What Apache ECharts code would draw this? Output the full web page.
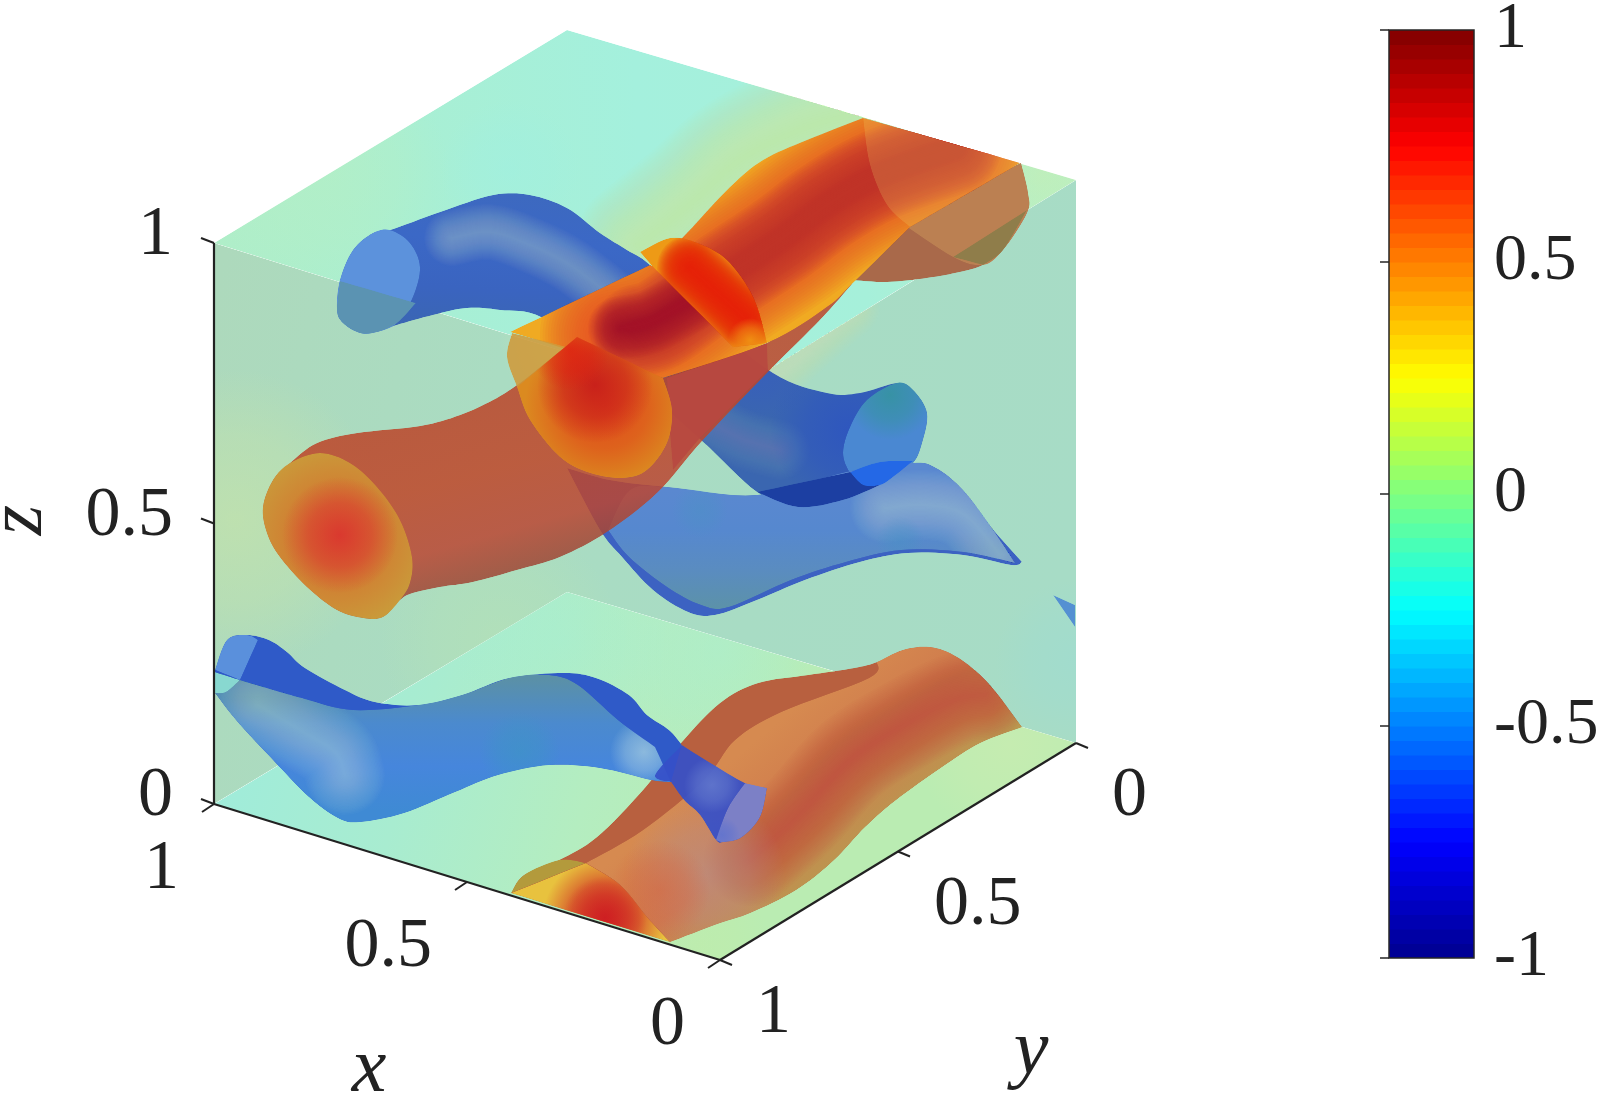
<!DOCTYPE html>
<html><head><meta charset="utf-8">
<style>html,body{margin:0;padding:0;background:#fff}#c{width:1600px;height:1095px}</style>
<script src="https://cdn.jsdelivr.net/npm/echarts@6/dist/echarts.min.js"></script>
</head><body><div id="c"></div>
<script>
// ---- axis values ----
const tickValues3d = [0, 0.5, 1];
const colorbarTicks = [-1, -0.5, 0, 0.5, 1];
const jetAnchors = [[-1,'#00008f'],[-0.75,'#0000ff'],[-0.25,'#00ffff'],[0.25,'#ffff00'],[0.75,'#ff0000'],[1,'#800000']];
const colorLevels = 64;
// ---- projected box corners, keyed x,y,z ----
const boxCorners = {'000':[1076,743],'100':[567,592],'010':[720,960],'110':[214,804],'001':[1076,180],'101':[567,30],'011':[720,400],'111':[214,243]};
// ---- traced surface outlines, in picture units; a third entry marks a sharp corner ----
const blueTopTube = [[390,230],[440,212],[493,195],[530,195],[567,208],[600,233],[627,250],[650,265],[700,315],[773,373],[827,393],[860,393],[897,383],[913,390],[927,413],[922,443],[913,463],[893,477],[880,485],[843,500],[798,507],[757,492],[701,440],[620,370],[543,318],[500,310],[467,308],[433,315],[397,325],[377,332],[360,333],[343,323],[337,310],[340,280],[353,250],[373,233]];
const blueTopRidgeA = [[452,238],[490,232],[530,245],[570,265],[610,295]];
const blueTopRidgeB = [[715,425],[745,440],[780,450]];
const blueCapLeft = [[390,230],[410,243],[420,267],[413,297],[397,323],[377,332],[360,333],[343,323],[337,310],[340,280],[353,250],[373,233]];
const blueCapLeftLow = [[340,281,1],[416,303,1],[397,323],[377,332],[360,333],[343,323],[337,310]];
const blueCapRight = [[897,383],[913,390],[927,413],[922,443],[913,463],[893,477],[880,485],[863,485],[850,473],[843,453],[850,427],[867,400]];
const blueCapOverlap = [[850,472,1],[880,462],[913,461,1],[893,477],[880,485],[863,485]];
const blueWave = [[567,468,1],[610,480],[667,487],[757,495],[846,472],[912,463],[936,468],[963,490],[991,527],[1022,562,1],[1011,565],[963,555],[908,553],[860,562],[805,580],[757,600],[715,615],[688,612],[653,590],[622,557],[600,530]];
const blueWaveInner = [[608,530,1],[629,557],[667,587],[701,605],[729,607],[791,580],[846,562],[901,550],[963,552],[1015,563,1],[991,527],[963,490],[936,468],[912,463],[846,472],[757,495],[667,487],[630,490]];
const blueWaveRidge = [[885,508],[925,505],[965,515],[1000,555]];
const blueOverlap = [[757,492,1],[850,472,1],[880,485,1],[843,500],[798,507]];
const blueSliver = [[1053,595,1],[1075,605,1],[1075,627,1]];
const blueLow = [[215,670,1],[227,640],[247,635],[269,640],[287,652],[305,668],[345,690],[375,702],[418,705],[462,695],[509,678],[564,673],[596,678],[629,695],[647,715],[669,730],[682,745,1],[671,782,1],[651,780],[600,768],[549,765],[498,775],[455,792],[404,813],[360,822],[338,818],[309,797],[273,760],[236,720],[215,693,1]];
const blueLowInner = [[240,680,1],[302,698],[353,710],[418,705],[462,695],[509,678],[549,675],[578,685],[618,720],[655,747,1],[671,782,1],[651,780],[600,768],[549,765],[498,775],[455,792],[404,813],[360,822],[338,818],[309,797],[273,760],[236,720],[215,693,1]];
const blueLowRidge = [[258,705],[300,730],[335,752],[345,775]];
const blueLowCap = [[215,670,1],[227,640],[247,635],[258,640,1],[240,680,1]];
const blueLowCapTeal = [[215,672,1],[240,680,1],[226,692],[215,693,1]];
const blueNeck = [[682,745,1],[709,762],[745,783],[767,788,1],[760,817],[742,837],[724,842],[716,840],[700,815],[684,800],[671,782,1],[655,775]];
const blueNeckCap = [[745,783,1],[767,788,1],[760,817],[742,837],[724,842],[716,840,1],[728,808]];
const redSheet = [[511,893,1],[524,875],[559,860],[597,837],[643,790],[681,743],[720,703],[758,683],[808,675],[854,668],[877,662],[903,650],[930,647],[957,657],[988,683],[1022,727,1],[980,743],[942,767],[896,800],[865,827],[834,860],[796,890],[750,913],[720,923],[670,942,1]];
const redSheetInner = [[586,863,1],[643,830],[704,780],[735,740],[781,712],[869,678],[877,662,1],[903,650],[930,647],[957,657],[988,683],[1022,727,1],[980,743],[942,767],[896,800],[865,827],[834,860],[796,890],[750,913],[720,923],[670,942,1],[647,917],[620,885]];
const redSheetRidge = [[750,860],[800,815],[850,760],[905,725],[955,700],[985,695]];
const redSection = [[511,893,1],[586,863,1],[620,885],[647,917],[670,942,1]];
const redSectionLeft = [[511,893,1],[524,875],[559,860],[586,863,1]];
const redTube = [[290,463],[317,443],[357,433],[420,426],[460,415],[493,400],[517,385],[540,367],[577,337,1],[663,378,1],[767,343,1],[853,283,1],[820,320],[770,370],[703,440],[657,493],[607,532],[560,557],[517,570],[473,582],[440,587],[413,593],[400,600],[383,617],[363,618],[337,610],[307,587],[280,557],[267,533],[263,507],[273,480]];
const redCapLeft = [[290,463],[320,453],[350,463],[377,487],[400,520],[412,557],[410,583],[400,600],[383,617],[363,618],[337,610],[307,587],[280,557],[267,533],[263,507],[273,480]];
const redUnder = [[667,378,1],[767,343,1],[768,370,1],[700,438,1],[673,470,1],[668,410,1]];
const redBand = [[510,332,1],[650,265,1],[657,263],[687,233],[730,187],[763,160],[807,140],[863,118,1],[1020,163,1],[910,227,1],[853,283],[827,307],[767,343],[663,378,1]];
const redBandOrange = [[615,335],[663,322],[720,280],[780,240],[827,205],[880,175],[955,148]];
const redBandRed = [[640,330],[663,322],[720,280],[780,240],[827,205],[880,175],[955,148]];
const redBandDark = [[620,328],[650,322],[690,300]];
const redBandCap = [[863,118,1],[1020,163,1],[910,227,1],[887,205],[870,165]];
const redBackCap = [[900,222,1],[1021,163,1],[1028,193],[1027,213],[1003,250],[983,265],[960,272],[927,278],[887,282],[850,280,1]];
const redBackCapInner = [[900,222,1],[1021,163,1],[1028,193],[1027,213],[1003,250],[983,265],[953,257]];
const redBackCapLow = [[953,257,1],[1027,210,1],[1003,250],[983,265,1]];
const redFlare = [[640,252,1],[670,238],[697,243],[727,260],[753,297],[767,343,1],[733,347,1],[653,267,1]];
const redFlareCore = [[690,268],[745,318]];
const redCapFront = [[512,333,1],[507,357],[517,387],[530,420],[560,457],[590,473],[623,478],[647,470],[667,443],[672,410],[663,378,1],[577,350]];
const redCapInner = [[517,387,1],[577,337,1],[663,378,1],[672,410],[667,443],[647,470],[623,478],[590,473],[560,457],[530,420]];
// ---- soft tints on the box faces ----
const topTintBand = [[640,245],[695,200],[740,160],[800,130],[860,112]];
const midTintBand = [[770,370],[815,330],[845,305]];

// ---- helper scales ----
function project(x, y, z) {
  let px = 0, py = 0;
  [0,1].forEach(a => [0,1].forEach(b => [0,1].forEach(c => {
    const w = (a ? x : 1-x) * (b ? y : 1-y) * (c ? z : 1-z);
    const p = boxCorners['' + a + b + c];
    px += w * p[0]; py += w * p[1];
  })));
  return [px, py];
}
function spline(pts, closed) {
  const out = [], n = pts.length;
  const at = i => closed ? pts[(i+n)%n] : pts[Math.max(0,Math.min(n-1,i))];
  const spans = closed ? n : n-1;
  for (let i = 0; i < spans; i++) {
    const p0=at(i-1),p1=at(i),p2=at(i+1),p3=at(i+2);
    for (let k = 0; k < 8; k++) {
      const t=k/8,t2=t*t,t3=t2*t;
      out.push([0,1].map(d=>0.5*(2*p1[d]+(p2[d]-p0[d])*t+(2*p0[d]-5*p1[d]+4*p2[d]-p3[d])*t2+(3*p1[d]-p0[d]-3*p2[d]+p3[d])*t3)));
    }
  }
  if (!closed) out.push(pts[n-1].slice(0,2));
  return out;
}
function outline(pts) {
  const firstCorner = pts.findIndex(p => p[2]);
  if (firstCorner < 0) return spline(pts, true);
  const rot = pts.slice(firstCorner).concat(pts.slice(0, firstCorner));
  rot.push(rot[0]);
  let out = [], seg = [rot[0]];
  for (let i = 1; i < rot.length; i++) {
    seg.push(rot[i]);
    if (rot[i][2]) { const s = spline(seg, false); s.pop(); out = out.concat(s); seg = [rot[i]]; }
  }
  return out;
}
const C = k => boxCorners[k];
const faceTop = [C('111'), C('101'), C('001'), C('011')];
const faceMid = [C('111'), C('011'), C('001'), C('000'), C('100'), C('110')];
const faceFloor = [C('110'), C('100'), C('000'), C('010')];

const lin = (x1,y1,x2,y2,stops) => new echarts.graphic.LinearGradient(x1,y1,x2,y2,
  stops.map((c,i)=>({offset:i/(stops.length-1),color:c})), true);
const layers = [
 {pts:faceTop, sharp:1, fill:lin(214,240,1076,180,['#b0eec8','#a8efd4','#a4f0dd','#a6f0da','#b8efc4']),
   soft:[{line:topTintBand,color:'#dcf29e',width:130,alpha:.72}],
   blobs:[[1040,175,60,'#c8eeb0',.5],[330,175,120,'#b8eec0',.45],[510,170,70,'#a0f0e0',.6]]},
 {pts:faceMid, sharp:1, fill:lin(214,300,1076,500,['#add9bc','#aadcc2','#a8dcc4','#a7dcc6']),
   soft:[{line:midTintBand,color:'#d4f0ae',width:70,alpha:.7}],
   blobs:[[235,520,150,'#c2e2ac',.8],[500,640,120,'#b6e2b4',.6],[580,340,80,'#c8e6b4',.7],[1075,660,80,'#9cdcd4',.5]]},
 {pts:faceFloor, sharp:1, fill:lin(214,804,720,960,['#a0ecda','#a8ecd0','#b4edc0','#baecb2']),
   blobs:[[1010,745,95,'#c8ecb0',.8],[560,640,110,'#a6eed2',.5],[720,650,120,'#a8eed4',.5],[700,945,70,'#c0ecaa',.6]]},
 {pts:blueTopTube, fill:lin(500,190,490,340,['#3d69bf','#3b68c6','#3a64c0','#3a66b0']),
   soft:[{line:blueTopRidgeA,color:'#a9c8df',width:56,alpha:.6},{line:blueTopRidgeB,color:'#6f8fd4',width:60,alpha:.65}],
   blobs:[[850,430,80,'#2a50c4',.7],[760,360,60,'#3558c4',.5]]},
 {pts:blueCapLeft, fill:'#5c92dc'},
 {pts:blueCapLeftLow, fill:'#5b93b2'},
 {pts:blueCapRight, fill:'#4a88d2', blobs:[[890,395,45,'#3593a0',.9]]},
 {pts:redSheet, fill:'#b8603f'},
 {pts:redSheetInner, fill:lin(780,720,880,840,['#d68a50','#cf7a4c','#b99a50']),
   soft:[{line:redSheetRidge,color:'#c94b3a',width:92,alpha:.75}],
   blobs:[[705,875,80,'#b89088',.7],[660,890,50,'#d8603a',.5]]},
 {pts:redSectionLeft, fill:'#b39a3c'},
 {pts:redSection, fill:'#e8c23e', blobs:[[605,918,62,'#cd1f22',1],[605,918,42,'#cf1f22',.65]]},
 {pts:blueLow, fill:'#2f5ac8'},
 {pts:blueLowInner, fill:lin(480,680,480,810,['#5a90a8','#4b8ace','#4686dc','#3f8ad4']),
   soft:[{line:blueLowRidge,color:'#a5d0dd',width:80,alpha:.55}],
   blobs:[[644,752,34,'#a8cee0',.7],[520,752,40,'#3a98c0',.5]]},
 {pts:blueLowCap, fill:'#5a90dc'},
 {pts:blueLowCapTeal, fill:'#88d8d0'},
 {pts:blueNeck, fill:'#3650c8', opacity:.93, blobs:[[712,785,28,'#6a80d0',.7]]},
 {pts:blueNeckCap, fill:'#7c80c6', blobs:[[722,835,18,'#5a70d0',.7]]},
 {pts:blueWave, fill:'#3c62c2'},
 {pts:blueWaveInner, fill:lin(760,490,760,610,['#5a88d0','#5688cf','#5a8cc0','#5c92a8']),
   soft:[{line:blueWaveRidge,color:'#a8cfe0',width:70,alpha:.62}],
   blobs:[[700,510,28,'#4a92c4',.45],[900,540,24,'#4492c4',.4]]},
 {pts:blueOverlap, fill:'#1c3fa2'},
 {pts:blueCapOverlap, fill:'#2468e6'},
 {pts:blueSliver, sharp:1, fill:'#5490d2'},
 {pts:redTube, fill:lin(440,420,490,600,['#bc4428','#bf4628','#bb4632','#8f4636']), opacity:.85},
 {pts:redCapLeft, fill:'#c8a03c', blobs:[[337,537,100,'#d66a2c',.85],[340,535,58,'#db2f2f',.85]]},
 {pts:redUnder, sharp:1, fill:'#b84840', opacity:.9},
 {pts:redBackCap, fill:'#a9694a'},
 {pts:redBackCapInner, fill:'#bb8052'},
 {pts:redBackCapLow, fill:'#8f7d4a'},
 {pts:redBand, fill:'#f0aa22',
   soft:[{line:redBandOrange,color:'#ea5424',width:150,alpha:.92},{line:redBandRed,color:'#bf3338',width:92,alpha:.9},{line:redBandDark,color:'#a5123e',width:64,alpha:.8}]},
 {pts:redBandCap, fill:'rgba(240,225,110,.2)'},
 {pts:redFlare, fill:'#ee9a16', soft:[{line:redFlareCore,color:'#e41e06',width:66,alpha:.97}], blobs:[[750,340,22,'#f2a015',.8]]},
 {pts:redCapFront, fill:'#cf9a3a', opacity:.88},
 {pts:redCapInner, fill:'#dc8a1e', opacity:.93, blobs:[[605,405,80,'#e0441a',.95],[595,385,58,'#c81e1a',.95],[570,350,40,'#e01a10',.75]]}
];

const jetColor = v => {
  let i = 0; while (i < jetAnchors.length-2 && v > jetAnchors[i+1][0]) i++;
  const a = jetAnchors[i], b = jetAnchors[i+1], t = (v-a[0])/(b[0]-a[0]);
  const ca = echarts.color.parse(a[1]), cb = echarts.color.parse(b[1]);
  return 'rgb(' + [0,1,2].map(k => Math.round(ca[k]+(cb[k]-ca[k])*t)).join(',') + ')';
};
const colorCells = [];
for (let i = 0; i < colorLevels; i++) colorCells.push([0, -1 + 2*i/colorLevels, -1 + 2*(i+1)/colorLevels]);

const FONT = '"Liberation Serif","DejaVu Serif",serif';
const numFont = '70px ' + FONT, nameFont = 'italic 78px ' + FONT;

function softStroke(points, s) {
  const steps = 28, out = [], a = 1 - Math.pow(1 - s.alpha, 1/steps);
  for (let i = steps; i >= 1; i--) out.push({type:'polyline', silent:true,
    shape:{points},
    style:{fill:null, stroke:echarts.color.modifyAlpha(s.color,a), lineWidth:s.width*i/steps, lineCap:'round', lineJoin:'round'}});
  return out;
}
function renderLayer(params, api) {
  const L = layers[api.value(0)];
  const shape = L.sharp ? L.pts : outline(L.pts);
  const pts = shape.map(p => api.coord(p));
  const kids = [{type:'polygon', shape:{points:pts}, style:{fill:L.fill, opacity:L.opacity===undefined?1:L.opacity}}];
  (L.soft||[]).forEach(s => softStroke(spline(s.line,false).map(p=>api.coord(p)), s).forEach(e=>kids.push(e)));
  (L.blobs||[]).forEach(b => {
    const c = api.coord([b[0],b[1]]);
    kids.push({type:'circle', shape:{cx:c[0],cy:c[1],r:b[2]}, style:{fill:new echarts.graphic.RadialGradient(c[0],c[1],b[2],[
      {offset:0,color:echarts.color.modifyAlpha(b[3],b[4])},
      {offset:.55,color:echarts.color.modifyAlpha(b[3],b[4]*.6)},
      {offset:1,color:echarts.color.modifyAlpha(b[3],0)}],true)}});
  });
  return {type:'group', children:kids, clipPath:{type:'polygon', shape:{points:pts}}};
}
// 3D axis frame and labels, all projected from axis values
const axisItems = [];
[[project(1,1,0),project(1,1,1)],[project(1,1,0),project(0,1,0)],[project(0,1,0),project(0,0,0)]].forEach(s=>axisItems.push({k:'line',a:s[0],b:s[1]}));
tickValues3d.forEach(v => {
  const pz = project(1,1,v), px = project(v,1,0), py = project(0,v,0);
  axisItems.push({k:'tick',a:pz,d:[-13,-5]},{k:'tick',a:px,d:[-12,8]},{k:'tick',a:py,d:[12,5]});
  axisItems.push({k:'label',a:pz,d:[-41,-7],t:String(v),al:'right'});
  axisItems.push({k:'label',a:px,d:[-35,66],t:String(v),al:'right'});
  axisItems.push({k:'label',a:py,d:[36,54],t:String(v),al:'left'});
});
const axisNames = [{t:'x',p:[369,1070]},{t:'y',p:[1031,1052]},{t:'z',p:[20,520],r:Math.PI/2}];
function renderAxis(params, api) {
  const it = axisItems[api.value(0)];
  const a = api.coord(it.a);
  if (it.k==='line'){const b=api.coord(it.b);return {type:'line',shape:{x1:a[0],y1:a[1],x2:b[0],y2:b[1]},style:{stroke:'#222',lineWidth:2.2}};}
  if (it.k==='tick') return {type:'line',shape:{x1:a[0],y1:a[1],x2:a[0]+it.d[0],y2:a[1]+it.d[1]},style:{stroke:'#222',lineWidth:2}};
  return {type:'text',x:a[0]+it.d[0],y:a[1]+it.d[1],style:{text:it.t,font:numFont,fill:'#222',align:it.al,verticalAlign:'middle'}};
}
function renderName(params, api) {
  const n = axisNames[api.value(0)], c = api.coord(n.p);
  return {type:'text',x:c[0],y:c[1],rotation:n.r||0,style:{text:n.t,font:nameFont,fill:'#222',align:'center',verticalAlign:'middle'}};
}
function renderCell(params, api) {
  const p1 = api.coord([0, api.value(1)]), p2 = api.coord([1, api.value(2)]);
  return {type:'rect',shape:{x:p1[0],y:p2[1],width:p2[0]-p1[0],height:p1[1]-p2[1]+.6},style:{fill:jetColor((api.value(1)+api.value(2))/2)}};
}
const idx = arr => arr.map((_,i)=>[i,i]);
const chart = echarts.init(document.getElementById('c'), null, {renderer:'canvas'});
chart.setOption({
  animation:false, backgroundColor:'#fff',
  grid:[{left:0,top:0,width:1600,height:1095,show:false,outerBoundsMode:'none'},
        {left:1389,top:30,width:85,height:928,show:true,borderColor:'#262626',borderWidth:1.5,z:5,outerBoundsMode:'none'}],
  xAxis:[{type:'value',min:0,max:1600,show:false,gridIndex:0},{type:'value',min:0,max:1,show:false,gridIndex:1}],
  yAxis:[{type:'value',min:0,max:1095,inverse:true,show:false,gridIndex:0},
    {type:'value',min:-1,max:1,interval:.5,position:'right',gridIndex:1,splitLine:{show:false},z:6,
     axisLine:{show:false},axisTick:{show:true,inside:true,length:9,lineStyle:{color:'#262626',width:1.5}},
     axisLabel:{show:true,margin:20,fontFamily:FONT,fontSize:66,color:'#222',align:'left',padding:[0,0,16,0],
       hideOverlap:false,customValues:colorbarTicks,formatter:v=>String(v)}}],
  series:[
    {type:'custom',xAxisIndex:0,yAxisIndex:0,clip:false,silent:true,renderItem:renderLayer,data:idx(layers),encode:{x:0,y:1}},
    {type:'custom',xAxisIndex:0,yAxisIndex:0,clip:false,silent:true,renderItem:renderAxis,data:idx(axisItems),encode:{x:0,y:1},z:3},
    {type:'custom',xAxisIndex:0,yAxisIndex:0,clip:false,silent:true,renderItem:renderName,data:idx(axisNames),encode:{x:0,y:1},z:3},
    {type:'custom',xAxisIndex:1,yAxisIndex:1,clip:true,silent:true,renderItem:renderCell,data:colorCells,encode:{x:0,y:[1,2]},z:2}
  ]
});
</script></body></html>
